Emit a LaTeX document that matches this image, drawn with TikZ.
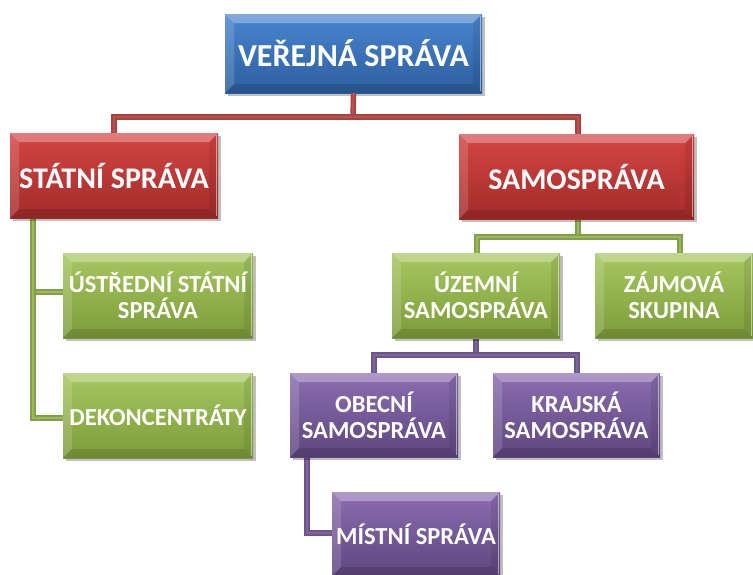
\documentclass[tikz,border=0pt]{standalone}
\usepackage{fontspec}
\setmainfont{Carlito}
\usetikzlibrary{shadows}

% box colours: top / bottom of the gradient, connector colours
\definecolor{blueT}{HTML}{4A86D0}
\definecolor{blueB}{HTML}{2C5E9E}
\definecolor{redT}{HTML}{D44543}
\definecolor{redB}{HTML}{A22C2A}
\definecolor{greenT}{HTML}{A6C760}
\definecolor{greenB}{HTML}{7D9C3A}
\definecolor{purpleT}{HTML}{8B6DB1}
\definecolor{purpleB}{HTML}{5E467F}
\definecolor{redL}{HTML}{C0504D}
\definecolor{greenL}{HTML}{9BBB59}
\definecolor{purpleL}{HTML}{8064A2}

\tikzset{
  orgbox/.style 2 args={
    rectangle, inner sep=0pt, align=center, text=white,
    minimum width=#2, top color=#1T, bottom color=#1B,
    drop shadow={shadow xshift=3pt, shadow yshift=-3pt, opacity=0.25, fill=black},
    path picture={
      % bevelled rim: light top and left, darker bottom and right
      \fill[white, opacity=0.30]
        (path picture bounding box.north west) -- (path picture bounding box.north east)
        -- ([shift={(-9,9)}]path picture bounding box.north east)
        -- ([shift={(9,9)}]path picture bounding box.north west) -- cycle;
      \fill[white, opacity=0.15]
        (path picture bounding box.north west) -- ([shift={(9,9)}]path picture bounding box.north west)
        -- ([shift={(9,-9)}]path picture bounding box.south west)
        -- (path picture bounding box.south west) -- cycle;
      \fill[black, opacity=0.12]
        (path picture bounding box.south west) -- ([shift={(9,-9)}]path picture bounding box.south west)
        -- ([shift={(-9,-9)}]path picture bounding box.south east)
        -- (path picture bounding box.south east) -- cycle;
      \fill[black, opacity=0.08]
        (path picture bounding box.north east) -- ([shift={(-9,9)}]path picture bounding box.north east)
        -- ([shift={(-9,-9)}]path picture bounding box.south east)
        -- (path picture bounding box.south east) -- cycle;
      \draw[white, opacity=0.5, line width=1pt]
        ([shift={(-1.5,2)}]path picture bounding box.north east)
        -- ([shift={(-1.5,-2)}]path picture bounding box.south east);
    }},
  topbox/.style={orgbox={blue}{257pt}, minimum height=79pt, font=\bfseries\fontsize{32}{38}\selectfont},
  redbox/.style={orgbox={red}{#1}, minimum height=85pt, font=\bfseries\fontsize{30}{35}\selectfont},
  greenbox/.style={orgbox={green}{#1}, minimum height=85pt, font=\bfseries\fontsize{24.5}{26}\selectfont},
  purplebox/.style={orgbox={purple}{#1}, minimum height=84pt, font=\bfseries\fontsize{24.5}{26}\selectfont},
  link/.style={line width=1.6pt, draw=#1!85!black, double=#1, double distance=2.2pt}
}

\begin{document}
\begin{tikzpicture}[x=1pt, y=-1pt]
  \useasboundingbox (0,0) rectangle (753,574);

  % connectors first, boxes on top
  \coordinate (j1) at (353,117);
  \coordinate (j2) at (578,237);
  \coordinate (j3) at (476,355);

  \node[topbox] (vs) at (353.5,53.5) {VEŘEJNÁ SPRÁVA};

  \draw[link=redL] (vs.south) -- (j1);
  \draw[link=redL] (j1) -| (114,133);
  \draw[link=redL] (j1) -| (578,134);

  \draw[link=greenL] (578,219) -- (j2);
  \draw[link=greenL] (j2) -| (477,253);
  \draw[link=greenL] (j2) -| (680,253);

  \draw[link=greenL] (33,218) |- (63,292);
  \draw[link=greenL] (33,290) |- (63,418);

  \draw[link=purpleL] (476,338) -- (j3);
  \draw[link=purpleL] (j3) -| (374,373);
  \draw[link=purpleL] (j3) -| (577,373);

  \draw[link=purpleL] (307,457) |- (332,533);

  \node[redbox=208pt] (st) at (114,175.5) {STÁTNÍ SPRÁVA};
  \node[redbox=235pt] (sa) at (576.5,176.5) {SAMOSPRÁVA};

  \node[greenbox=190pt] (us) at (158,295.5) {ÚSTŘEDNÍ STÁTNÍ\\SPRÁVA};
  \node[greenbox=190pt] (de) at (158,415.5) {DEKONCENTRÁTY};
  \node[greenbox=168pt] (uz) at (476,295.5) {ÚZEMNÍ\\SAMOSPRÁVA};
  \node[greenbox=158pt] (za) at (674,295.5) {ZÁJMOVÁ\\SKUPINA};

  \node[purplebox=168pt] (ob) at (374,415) {OBECNÍ\\SAMOSPRÁVA};
  \node[purplebox=167pt] (kr) at (576.5,415) {KRAJSKÁ\\SAMOSPRÁVA};
  \node[purplebox=168pt] (mi) at (416,534) {MÍSTNÍ SPRÁVA};
\end{tikzpicture}
\end{document}
